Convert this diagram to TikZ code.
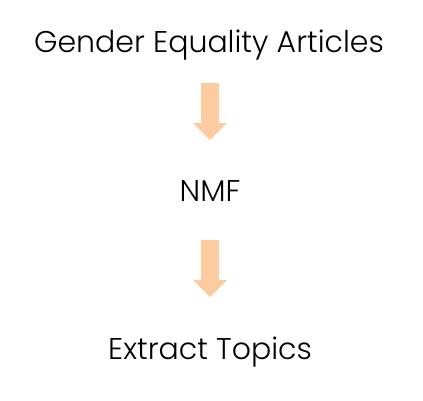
\documentclass[tikz,border=0pt]{standalone}
\usepackage{fontspec}
\setmainfont{Poppins}[UprightFont=* Light]
\usetikzlibrary{calc}
\definecolor{peach}{HTML}{FDCBA0}
\tikzset{
  lbl/.style={anchor=base, inner sep=0pt, font=\fontsize{30}{36}\selectfont, text=black},
}
\newcommand{\blockarrow}[2]{%
  \fill[peach] ($(#1)+(-9,0)$) -- ($(#1)+(9,0)$) -- ($(#2)+(9,-17)$) -- ($(#2)+(17,-17)$) -- (#2) -- ($(#2)+(-17,-17)$) -- ($(#2)+(-9,-17)$) -- cycle;}
\begin{document}
\begin{tikzpicture}[x=1pt,y=-1pt]
\useasboundingbox (0,0) rectangle (423,400);
\node[lbl] (gea) at (209,52) {Gender Equality Articles};
\node[lbl] (nmf) at (210,201) {NMF};
\node[lbl] (ext) at (210,359) {Extract Topics};
\coordinate (a1s) at (210,83);
\coordinate (a1e) at (210,140);
\coordinate (a2s) at (210,240);
\coordinate (a2e) at (210,297);
\blockarrow{a1s}{a1e}
\blockarrow{a2s}{a2e}
\end{tikzpicture}
\end{document}
